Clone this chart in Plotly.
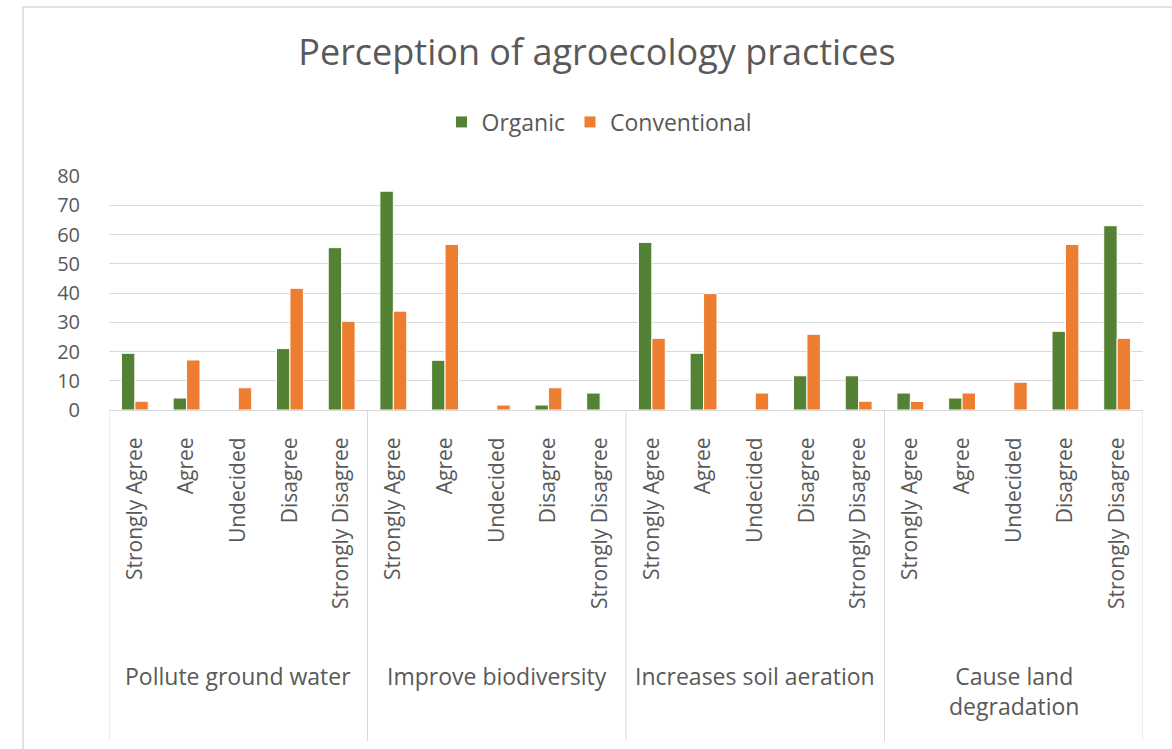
import plotly.graph_objects as go

groups = ["Pollute ground water", "Improve biodiversity", "Increases soil aeration", "Cause land<br>degradation"]
responses = ["Strongly Agree", "Agree", "Undecided", "Disagree", "Strongly Disagree"]

organic = [19.4, 4.1, 0, 21.0, 55.5,
           74.8, 17.0, 0, 1.7, 5.8,
           57.3, 19.4, 0, 11.7, 11.7,
           5.8, 4.1, 0, 26.9, 63.0]
conventional = [3.0, 17.1, 7.6, 41.6, 30.3,
                33.8, 56.6, 1.7, 7.6, 0,
                24.5, 39.8, 5.8, 25.9, 3.0,
                2.9, 5.8, 9.5, 56.6, 24.5]
y_ticks = [0, 10, 20, 30, 40, 50, 60, 70, 80]

n_resp = len(responses)
positions = list(range(len(groups) * n_resp))
tick_text = [r for _ in groups for r in responses]

FONT = "Open Sans"
TXT = "#595959"
GRID = "#D9D9D9"

W, H = 1172, 749
L, R, T, B = 109, 29, 176, 339
pw, ph = W - L - R, H - T - B

fig = go.Figure()
fig.add_trace(go.Bar(name="Organic", x=positions, y=organic,
                     marker=dict(color="#548235", line=dict(color="white", width=1))))
fig.add_trace(go.Bar(name="Conventional", x=positions, y=conventional,
                     marker=dict(color="#ED7D31", line=dict(color="white", width=1))))

fig.update_layout(
    width=W, height=H,
    margin=dict(l=L, r=R, t=T, b=B, autoexpand=False),
    paper_bgcolor="white", plot_bgcolor="white",
    barmode="group", bargap=0.48, bargroupgap=0.0,
    font=dict(family=FONT, color=TXT, size=20),
    title=dict(text="Perception of agroecology practices", x=597 / W, xref="container",
               xanchor="center", y=1 - 52 / H, yref="container", yanchor="middle",
               font=dict(size=36, color=TXT, family=FONT)),
    legend=dict(orientation="h", x=(599 - L) / pw, xanchor="center",
                y=(H - B - 122) / ph, yanchor="middle",
                font=dict(size=23, color=TXT), traceorder="normal"),
    showlegend=True,
)
fig.update_yaxes(range=[0, 80], tickvals=y_ticks, showgrid=True, gridcolor=GRID, gridwidth=1,
                 zeroline=False, showline=False, tickfont=dict(size=20, color=TXT),
                 ticklabelstandoff=28)
fig.update_xaxes(range=[-0.5, len(positions) - 0.5], tickvals=positions, ticktext=tick_text,
                 tickangle=-90, showline=True, linecolor=GRID, linewidth=1, showgrid=False,
                 zeroline=False, tickfont=dict(size=21, color=TXT), ticks="",
                 ticklabelstandoff=18)

# group labels and dividers on the category axis
for gi, g in enumerate(groups):
    fig.add_annotation(text=g, x=gi * n_resp + (n_resp - 1) / 2, xref="x",
                       y=(H - B - 658) / ph, yref="paper", yanchor="top", xanchor="center",
                       showarrow=False, font=dict(size=23, color=TXT, family=FONT))
for k in range(len(groups) + 1):
    xv = k * n_resp - 0.5
    fig.add_shape(type="line", xref="x", yref="paper", x0=xv, x1=xv,
                  y0=0, y1=(H - B - 741) / ph, line=dict(color=GRID, width=1))

# outer chart border
fig.add_shape(type="rect", xref="paper", yref="paper",
              x0=(23 - L) / pw, x1=(W + 20 - L) / pw,
              y0=-(B + 20) / ph, y1=(H - B - 7) / ph,
              line=dict(color=GRID, width=1.5), fillcolor="rgba(0,0,0,0)", layer="below")

fig.write_html("out.html", config={"displayModeBar": False},
               post_script="document.body.style.margin='0';")
